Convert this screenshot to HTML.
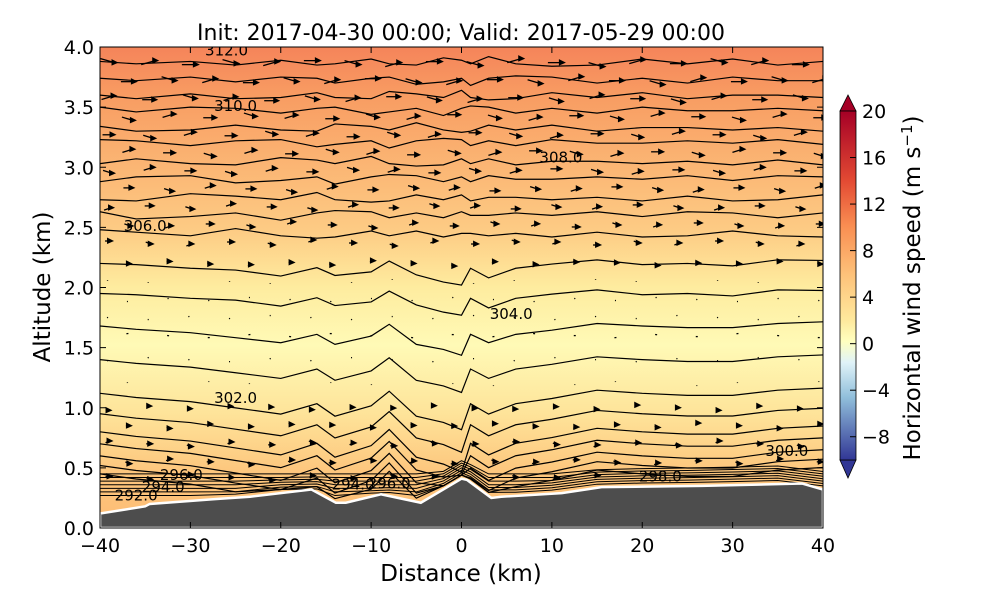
<!DOCTYPE html>
<html><head><meta charset="utf-8"><style>
body{margin:0;background:#fff;font-family:"Liberation Sans","DejaVu Sans",sans-serif}
svg text{font-family:"DejaVu Sans","Liberation Sans",sans-serif}
</style></head><body>
<svg id="chart" width="1000" height="600" viewBox="0 0 1000 600" xmlns="http://www.w3.org/2000/svg">
<defs>
<linearGradient id="bg" x1="0" y1="0" x2="0" y2="1">
<stop offset="0" stop-color="#f5845a"/><stop offset="0.1" stop-color="#f89c62"/>
<stop offset="0.25" stop-color="#fbb674"/><stop offset="0.38" stop-color="#fdcb84"/>
<stop offset="0.5" stop-color="#feec9f"/><stop offset="0.62" stop-color="#fffab6"/>
<stop offset="0.76" stop-color="#fee49a"/><stop offset="0.88" stop-color="#fdc77e"/>
<stop offset="1" stop-color="#fdbb74"/></linearGradient>
<linearGradient id="cb" x1="0" y1="0" x2="0" y2="1">
<stop offset="0" stop-color="#a50026"/><stop offset="0.2" stop-color="#e34a33"/>
<stop offset="0.33" stop-color="#f98e52"/><stop offset="0.47" stop-color="#fdc27a"/>
<stop offset="0.6" stop-color="#fee99d"/><stop offset="0.66" stop-color="#ffffbf"/>
<stop offset="0.72" stop-color="#e0f3f8"/><stop offset="0.82" stop-color="#91bfdb"/>
<stop offset="1" stop-color="#313695"/></linearGradient>
<clipPath id="pc"><rect x="100" y="47" width="723" height="481"/></clipPath>
</defs>
<g id="plot" clip-path="url(#pc)">
<rect x="100" y="47" width="723" height="481" fill="url(#bg)"/>
<g id="contours"></g><g id="arrows"></g><g id="terrain"></g>
</g>
<rect x="100" y="47" width="723" height="481" fill="none" stroke="#000" stroke-width="1"/>
<g id="axes"></g>
<text x="461" y="40" font-size="22" text-anchor="middle">Init: 2017-04-30 00:00; Valid: 2017-05-29 00:00</text>
<text x="461" y="581" font-size="23" text-anchor="middle">Distance (km)</text>
<text transform="translate(50,287) rotate(-90)" font-size="23" text-anchor="middle">Altitude (km)</text>
<g>
<polygon points="840,111 856,111 848,95" fill="#a50026" stroke="#000" stroke-width="0.8"/>
<polygon points="840,460 856,460 848,478" fill="#313695" stroke="#000" stroke-width="0.8"/>
<rect x="840" y="111" width="16" height="349" fill="url(#cb)" stroke="#000" stroke-width="0.8"/>
<g id="cbticks"></g>
<text transform="translate(920,288) rotate(-90)" font-size="23" text-anchor="middle">Horizontal wind speed (m s<tspan dy="-8" font-size="15">−1</tspan><tspan dy="8">)</tspan></text>
</g>
</svg>
<script>
const xTicks=[-40,-30,-20,-10,0,10,20,30,40];
const yTicks=[0.0,0.5,1.0,1.5,2.0,2.5,3.0,3.5,4.0];
const cbTicks=[20,16,12,8,4,0,-4,-8];
const terrX=[-40,-35,-34.5,-27.3,-23.4,-16.6,-13.9,-12.8,-8.9,-4.5,0,0.6,3.3,4.4,11.1,15.5,26.6,37.7,40];
const terrZ=[0.12,0.18,0.2,0.24,0.26,0.32,0.21,0.21,0.28,0.21,0.41,0.4,0.25,0.26,0.29,0.34,0.35,0.37,0.32];
const nodeX=[-40,-36,-30,-25,-20,-16,-14,-10,-8,-5,-2,0,1,3,6,10,15,20,25,30,35,40];
const contourBase=[3.88,3.72,3.6,3.47,3.33,3.2,3.05,2.9,2.75,2.6,2.45,2.2,1.95,1.68,1.4,1.12,0.95,0.8,0.7,0.6,0.52,0.45];
const upperWiggle=[0,0.02,0,0.03,-0.01,0.03,0.02,-0.02,0.02,0.03,-0.03,-0.01,0.02,-0.04,0.02,0.04,0.03,-0.02,0.02,-0.02,0.03,0];
const lowerWiggle=[0,-0.04,-0.08,-0.14,-0.2,-0.1,-0.22,-0.12,0.02,-0.22,-0.28,-0.35,-0.1,-0.2,-0.1,-0.05,0.03,0.0,-0.02,-0.02,0.03,0.05];
const contourLabels=[["312.0",-26,3.97],["310.0",-25,3.51],["308.0",11,3.08],["306.0",-35,2.51],["304.0",5.5,1.78],["302.0",-25,1.08],["300.0",36,0.64],["298.0",22,0.43],["296.0",-31,0.44],["294.0",-33,0.34],["292.0",-36,0.27],["294.0",-12,0.36],["296.0",-8,0.37]];
const arrowRows=[3.87,3.72,3.57,3.42,3.27,3.12,2.97,2.82,2.67,2.52,2.37,2.2,2.05,1.9,1.75,1.6,1.4,1.2,1.0,0.85,0.7,0.55,0.42];
const arrowLen=[17,16,15,14,13,13,12,11,10,9,8,6,3,2,2,1,2,3,5,6,7,7,7];
const X=v=>100+(v+40)*723/80, Y=v=>528-v*481/4, CB=v=>460-(v+10)*349/30;
const ns="http://www.w3.org/2000/svg";
function mk(t,a,p){const e=document.createElementNS(ns,t);for(const k in a)e.setAttribute(k,a[k]);p.appendChild(e);return e;}
function terrAt(x){for(let i=1;i<terrX.length;i++)if(x<=terrX[i]){const f=(x-terrX[i-1])/(terrX[i]-terrX[i-1]);return terrZ[i-1]+f*(terrZ[i]-terrZ[i-1]);}return terrZ[terrZ.length-1];}
const cg=document.getElementById('contours');
contourBase.forEach((b,ci)=>{
  const sgn=ci%2?1:-1;
  const pts=nodeX.map((x,i)=>{let z;
    if(b>2.3) z=b+upperWiggle[(i+ci)%upperWiggle.length]*sgn;
    else if(b>1.8) z=b+lowerWiggle[i]*0.5+upperWiggle[i]*0.5;
    else z=b+lowerWiggle[i]*(1.2-b*0.3);
    z=Math.max(z,terrAt(x)+0.03);return X(x)+','+Y(z);}).join(' ');
  const p=mk('polyline',{points:pts,fill:'none',stroke:'#000','stroke-width':1.2},cg);
  
  
});
for(let k=0;k<7;k++){const b=0.27+k*0.03;
  const pts=nodeX.map(x=>{let z=Math.max(b,terrAt(x)+0.03+k*0.02);return X(x)+','+Y(z);}).join(' ');
  const p=mk('polyline',{points:pts,fill:'none',stroke:'#000','stroke-width':1},cg);
  
  }
contourLabels.forEach(l=>{const t=mk('text',{x:X(l[1]),y:Y(l[2])+5,'font-size':15,'text-anchor':'middle'},cg);t.textContent=l[0];
  
  });
const ag=document.getElementById('arrows');
arrowRows.forEach((z,r)=>{for(let c=0;c<18;c++){const x=-39+c*4.5+(r%2)*2.2;if(z<terrAt(x)+0.08)continue;
  const L=arrowLen[r],px=X(x),py=Y(z)+((c*7+r*3)%5-2);
  const g=mk('g',{},ag);
  
  
  const tilt=((c*5+r)%3-1)*0.12;
  mk('line',{x1:px-L/2,y1:py+L*tilt,x2:px+L/2-3,y2:py-L*tilt,stroke:'#000','stroke-width':1.3},g);
  if(L>3)mk('polygon',{points:`${px+L/2+1},${py-L*tilt} ${px+L/2-6},${py-L*tilt-3.5} ${px+L/2-6},${py-L*tilt+3}`,fill:'#000'},g);}});
const tg=document.getElementById('terrain');
let tp=`M${X(-40)},${Y(0)} `+terrX.map((x,i)=>`L${X(x)},${Y(terrZ[i])}`).join(' ')+` L${X(40)},${Y(0)} Z`;
const tr=mk('path',{d:tp,fill:'#4d4d4d',stroke:'#fff','stroke-width':2.5},tg);


const ax=document.getElementById('axes');
xTicks.forEach(v=>{mk('line',{x1:X(v),x2:X(v),y1:528,y2:522,stroke:'#000'},ax);mk('line',{x1:X(v),x2:X(v),y1:47,y2:53,stroke:'#000'},ax);
  const t=mk('text',{x:X(v),y:552,'font-size':19,'text-anchor':'middle'},ax);t.textContent=v<0?'−'+(-v):v;
  
  });
yTicks.forEach(v=>{mk('line',{x1:100,x2:106,y1:Y(v),y2:Y(v),stroke:'#000'},ax);mk('line',{x1:823,x2:817,y1:Y(v),y2:Y(v),stroke:'#000'},ax);
  const t=mk('text',{x:94,y:Y(v)+7,'font-size':19,'text-anchor':'end'},ax);t.textContent=v.toFixed(1);
  
  });
const cbg=document.getElementById('cbticks');
cbTicks.forEach(v=>{mk('line',{x1:850,x2:856,y1:CB(v),y2:CB(v),stroke:'#000'},cbg);
  const t=mk('text',{x:862,y:CB(v)+7,'font-size':19},cbg);t.textContent=v<0?'−'+(-v):v;
  
  });
</script>
</body></html>
